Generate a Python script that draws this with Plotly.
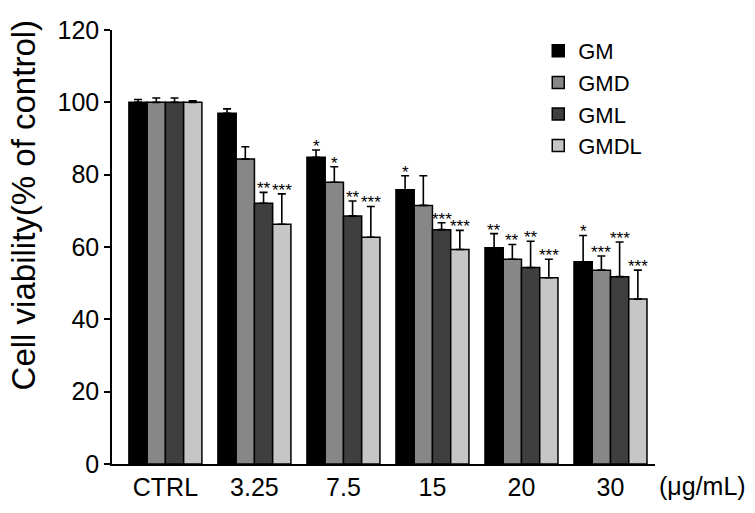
import plotly.graph_objects as go

categories = ["CTRL", "3.25", "7.5", "15", "20", "30"]
series_names = ["GM", "GMD", "GML", "GMDL"]

gm = [100, 97.0, 84.8, 75.8, 59.8, 55.9]
gmd = [100, 84.3, 77.9, 71.5, 56.6, 53.6]
gml = [100, 72.1, 68.6, 64.8, 54.3, 51.8]
gmdl = [100, 66.3, 62.7, 59.3, 51.5, 45.6]

gm_err = [0.8, 1.2, 2.0, 3.9, 3.9, 7.3]
gmd_err = [1.2, 3.4, 4.3, 8.2, 4.1, 3.9]
gml_err = [1.2, 3.0, 4.1, 1.9, 7.3, 9.6]
gmdl_err = [0.4, 8.4, 8.5, 5.3, 5.1, 8.0]

gm_sig = ["", "", "*", "*", "**", "*"]
gmd_sig = ["", "", "*", "", "**", "***"]
gml_sig = ["", "**", "**", "***", "**", "***"]
gmdl_sig = ["", "***", "***", "***", "***", "***"]

colors = ["#000000", "#878787", "#3f3f3f", "#c6c6c6"]

values = [gm, gmd, gml, gmdl]
errors = [gm_err, gmd_err, gml_err, gmdl_err]
sigs = [gm_sig, gmd_sig, gml_sig, gmdl_sig]

FONT = "Liberation Sans, Arial, sans-serif"
bargap = 0.18
n = len(series_names)
bw = (1 - bargap) / n

fig = go.Figure()
for j, name in enumerate(series_names):
    fig.add_trace(go.Bar(
        x=categories, y=values[j], name=name,
        marker=dict(color=colors[j], line=dict(color="#000000", width=1.5)),
        error_y=dict(type="data", array=errors[j], arrayminus=[0] * len(categories),
                     symmetric=False, color="#000000", thickness=1.6, width=4),
    ))

annotations = []
for j in range(n):
    for i, s in enumerate(sigs[j]):
        if s:
            annotations.append(dict(
                x=i + (j - (n - 1) / 2) * bw, y=values[j][i] + errors[j][i],
                xref="x", yref="y", text=s, showarrow=False,
                yanchor="bottom", yshift=-7, borderpad=0,
                font=dict(family=FONT, size=17, color="#000000"),
            ))

annotations.append(dict(
    x=-0.163, y=0.597, xref="paper", yref="paper", text="Cell viability(% of control)",
    textangle=-90, showarrow=False, xanchor="center", yanchor="middle",
    font=dict(family=FONT, size=33, color="#000000"),
))
annotations.append(dict(
    x=1.0, y=0, xref="paper", yref="paper", text="(μg/mL)",
    showarrow=False, xanchor="left", yanchor="top", yshift=-6, xshift=2,
    font=dict(family=FONT, size=25, color="#000000"),
))

fig.update_layout(
    width=755, height=513,
    margin=dict(l=112, r=100, t=30, b=46),
    plot_bgcolor="white", paper_bgcolor="white",
    barmode="group", bargap=bargap, bargroupgap=0,
    font=dict(family=FONT, color="#000000"),
    showlegend=True,
    legend=dict(x=0.785, y=1.0, xanchor="left", yanchor="top",
                font=dict(family=FONT, size=22, color="#000000"),
                bgcolor="rgba(0,0,0,0)", tracegroupgap=0, itemwidth=30),
    annotations=annotations,
)
fig.update_xaxes(
    type="category", range=[-0.6, 5.5], showline=True, linecolor="#000000", linewidth=1.5,
    ticks="", showgrid=False, zeroline=False,
    tickfont=dict(family=FONT, size=25, color="#000000"),
)
fig.update_yaxes(
    range=[0, 120], tickvals=[0, 20, 40, 60, 80, 100, 120],
    showline=True, linecolor="#000000", linewidth=1.5,
    ticks="outside", ticklen=6, tickwidth=1.5, tickcolor="#000000",
    showgrid=False, zeroline=False,
    tickfont=dict(family=FONT, size=25, color="#000000"),
)

fig.write_html("out.html")
